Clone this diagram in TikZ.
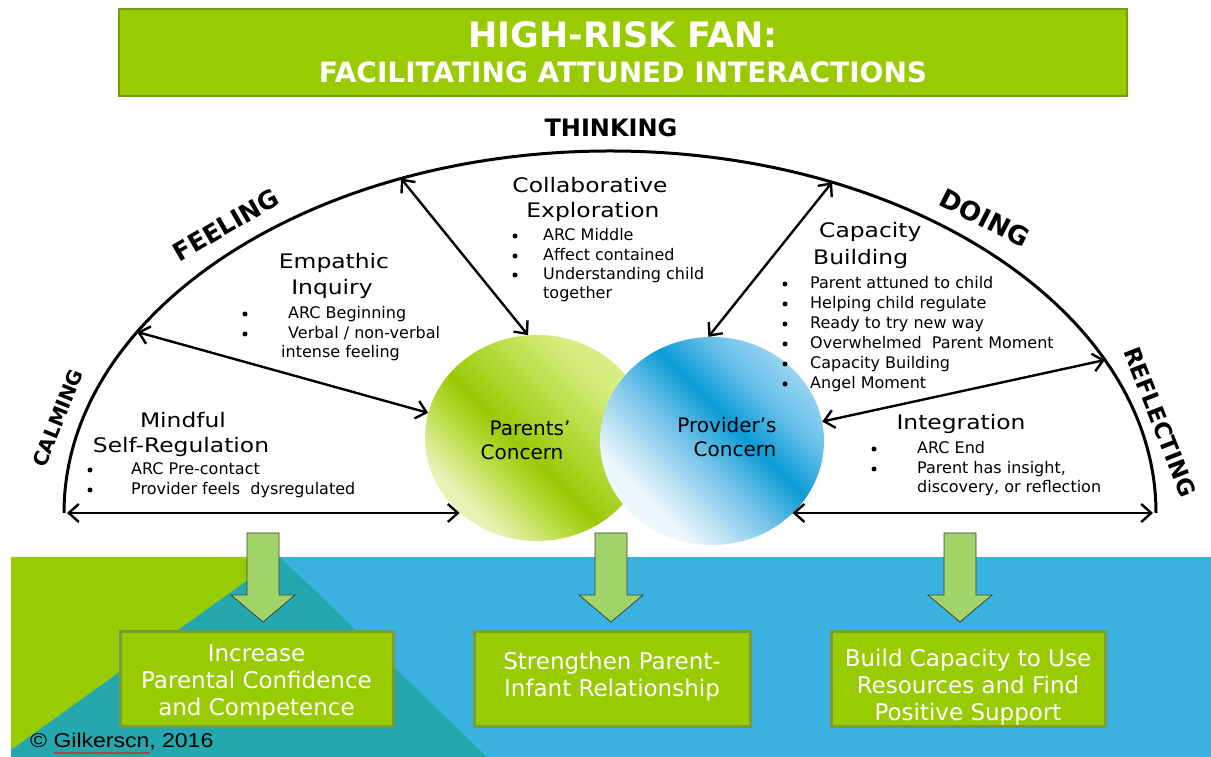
\documentclass[tikz,border=0pt]{standalone}
\usepackage{fontspec}
\setmainfont{DejaVu Sans}
\newfontfamily\hdfont[FakeStretch=1.17]{DejaVu Sans}
\newfontfamily\libsans[FakeStretch=1.15]{Liberation Sans}
\usetikzlibrary{arrows.meta,shapes.geometric,decorations.pathmorphing}
\definecolor{tgreen}{HTML}{99CC00}
\definecolor{tgreenD}{HTML}{739E12}
\definecolor{bandblue}{HTML}{3AB1DE}
\definecolor{bandteal}{HTML}{24A8AE}
\definecolor{arrgreen}{HTML}{A0D468}
\definecolor{boxborder}{HTML}{7A9A3E}
\pgfdeclareverticalshading{greenball}{100bp}{rgb(0bp)=(0.96,0.98,0.88); rgb(28bp)=(0.90,0.95,0.70); rgb(40bp)=(0.70,0.85,0.20); rgb(46bp)=(0.60,0.79,0.02); rgb(54bp)=(0.68,0.84,0.18); rgb(70bp)=(0.84,0.93,0.50); rgb(100bp)=(0.90,0.96,0.62)}
\pgfdeclareverticalshading{blueball}{100bp}{rgb(0bp)=(1,1,1); rgb(30bp)=(0.92,0.97,0.99); rgb(46bp)=(0.45,0.76,0.91); rgb(56bp)=(0.04,0.61,0.84); rgb(66bp)=(0.40,0.75,0.91); rgb(80bp)=(0.70,0.88,0.96); rgb(100bp)=(0.80,0.92,0.97)}
\begin{document}
\begin{tikzpicture}[x=1pt,y=1pt,
  arcline/.style={line width=3pt},
  conn/.style={line width=2.4pt,{Straight Barb[length=10pt,width=18pt]}-{Straight Barb[length=10pt,width=18pt]}},
  lbl/.style={inner sep=0},
  hd/.style={font=\hdfont\fontsize{20}{24}\selectfont, inner sep=0},
  bt/.style={font=\fontsize{16}{20}\selectfont, inner sep=0, anchor=west, text height=11.5pt, text depth=3pt},
  dot/.style={circle, fill=black, inner sep=0, minimum size=5pt},
  ctx/.style={font=\fontsize{20}{24}\selectfont, inner sep=0},
  outbox/.style={draw=boxborder, line width=3pt, fill=tgreen, inner sep=0, minimum height=95pt},
  outtext/.style={text=white, align=center, font=\fontsize{23}{27}\selectfont, inner sep=0},
  blockarrow/.style={fill=arrgreen, draw=black!75, line width=0.8pt},
]
\fill[white] (0,0) rectangle (1211,757);
\useasboundingbox (0,0) rectangle (1211,757);

% title
\node[draw=tgreenD, line width=2.5pt, fill=tgreen, minimum width=1008pt, minimum height=87pt, inner sep=0] (titlebox) at (623,704.5) {};
\node[text=white, font=\fontsize{35}{35}\selectfont\bfseries, inner sep=0] (t1) at (623,722) {HIGH-RISK FAN:};
\node[text=white, font=\fontsize{28}{28}\selectfont\bfseries, inner sep=0] (t2) at (623,685) {FACILITATING ATTUNED INTERACTIONS};

% bottom band
\fill[bandblue] (11,0) rectangle (1211,200);
\fill[tgreen] (11,200) -- (280,200) -- (11,7) -- cycle;
\fill[bandteal] (280,200) -- (487,0) -- (11,0) -- (11,7) -- cycle;

% arc
\coordinate (C) at (610,244);
\path (C) ++(180:546 and 362) coordinate (aL);
\path (C) ++(0:546 and 362) coordinate (aR);
\path (C) ++(150:546 and 362) coordinate (a150);
\path (C) ++(112.5:546 and 362) coordinate (a112);
\path (C) ++(66:546 and 362) coordinate (a66);
\path (C) ++(25:546 and 362) coordinate (a25);
\draw[arcline] (aL) arc[start angle=180, end angle=0, x radius=546, y radius=362];

% circles
\node[ellipse, minimum width=224pt, minimum height=206pt, inner sep=0, shade, shading=greenball, shading angle=-45] (G) at (537,319) {};
\node[ellipse, minimum width=224pt, minimum height=208pt, inner sep=0, shade, shading=blueball, shading angle=-45] (B) at (712,316) {};
\node[ctx] (par1) at (530,329) {Parents’};
\node[ctx] (par2) at (522,305) {Concern};
\node[ctx] (pro1) at (727,332) {Provider’s};
\node[ctx] (pro2) at (735,308) {Concern};

% connectors
\draw[conn] ([xshift=3pt]aL) -- (G.224 |- aL);
\draw[conn] (a150) -- (G.167);
\draw[conn] (a112) -- (G.95);
\draw[conn] (a66) -- (B.92);
\draw[conn] (a25) -- (B.10);
\draw[conn] (B.-42 |- aR) -- ([xshift=-3pt]aR);

% arc labels
\node[lbl, font=\fontsize{24}{24}\selectfont\bfseries] (thinking) at (611,629) {THINKING};
\node[lbl, font=\fontsize{25}{25}\selectfont\bfseries, rotate=30] (feeling) at (226,532) {FEELING};
\node[lbl, font=\fontsize{26}{26}\selectfont\bfseries, rotate=-27] (doing) at (985,539) {DOING};
\node[lbl, font=\fontsize{20}{20}\selectfont\bfseries, rotate=68] (calming) at (58,339) {CALMING};
\node[lbl, font=\fontsize{23}{23}\selectfont\bfseries, rotate=-68.5] (reflecting) at (1160,335) {REFLECTING};

% Empathic Inquiry
\node[hd] (emp1) at (334,494) {Empathic};
\node[hd] (emp2) at (332,468) {Inquiry};
\node[dot] (ed1) at (245,443) {};
\node[dot] (ed2) at (245,423) {};
\node[bt] (et1) at (288,443) {ARC Beginning};
\node[bt] (et2) at (288,423) {Verbal / non-verbal};
\node[bt] (et3) at (281,404) {intense feeling};

% Mindful Self-Regulation
\node[hd] (min1) at (183,337) {Mindful};
\node[hd] (min2) at (181,310) {Self-Regulation};
\node[dot] (md1) at (90,287) {};
\node[dot] (md2) at (90,267) {};
\node[bt] (mt1) at (131,287) {ARC Pre-contact};
\node[bt] (mt2) at (131,267) {Provider feels\ \ dysregulated};

% Collaborative Exploration
\node[hd] (col1) at (590,572) {Collaborative};
\node[hd] (col2) at (593,545) {Exploration};
\node[dot] (cd1) at (515,521) {};
\node[dot] (cd2) at (515,501) {};
\node[dot] (cd3) at (515,482) {};
\node[bt] (ct1) at (543,521) {ARC Middle};
\node[bt] (ct2) at (543,501) {Affect contained};
\node[bt] (ct3) at (543,482) {Understanding child};
\node[bt] (ct4) at (543,463) {together};

% Capacity Building
\node[hd, anchor=west] (cap1) at (819,525) {Capacity};
\node[hd, anchor=west] (cap2) at (813,498) {Building};
\foreach \yy [count=\i] in {473,453,433,413,393,373} \node[dot] (kd\i) at (785,\yy) {};
\node[bt] (kt1) at (810,473) {Parent attuned to child};
\node[bt] (kt2) at (810,453) {Helping child regulate};
\node[bt] (kt3) at (810,433) {Ready to try new way};
\node[bt] (kt4) at (810,413) {Overwhelmed\ \ Parent Moment};
\node[bt] (kt5) at (810,393) {Capacity Building};
\node[bt] (kt6) at (810,373) {Angel Moment};

% Integration
\node[hd] (int1) at (961,333) {Integration};
\node[dot] (id1) at (874,308) {};
\node[dot] (id2) at (874,288) {};
\node[bt] (it1) at (917,308) {ARC End};
\node[bt] (it2) at (917,288) {Parent has insight,};
\node[bt] (it3) at (917,269) {discovery, or reflection};

% block arrows
\foreach \cx in {263,611,960} {
  \draw[blockarrow] (\cx-16,224) -- (\cx+16,224) -- (\cx+16,162) -- (\cx+32,162) -- (\cx,135) -- (\cx-32,162) -- (\cx-16,162) -- cycle;
}

% outcome boxes
\node[outbox, minimum width=273pt] (o1) at (256.5,77.5) {};
\node[outbox, minimum width=276pt] (o2) at (612,77.5) {};
\node[outbox, minimum width=274pt] (o3) at (968,77.5) {};
\node[outtext] (o1t) at (256.5,74.5) {Increase\\Parental Confidence\\and Competence};
\node[outtext] (o2t) at (612,80) {Strengthen Parent-\\Infant Relationship};
\node[outtext] (o3t) at (968,70) {Build Capacity to Use\\Resources and Find\\Positive Support};

% copyright
\node[anchor=west, inner sep=0, font=\libsans\fontsize{20}{20}\selectfont] (copy) at (30,15) {© Gilkerscn, 2016};
\draw[red, line width=0.6pt, decorate, decoration={snake, amplitude=0.8pt, segment length=3pt}] (54,4) -- (150,4);
\end{tikzpicture}
\end{document}
